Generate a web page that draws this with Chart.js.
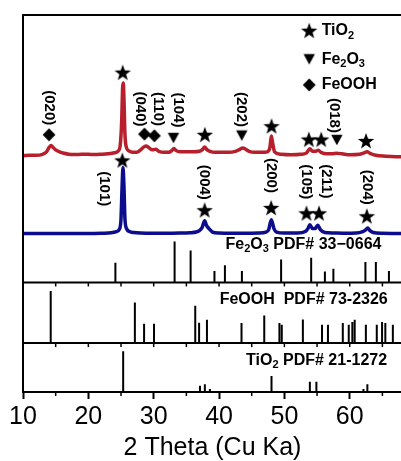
<!DOCTYPE html>
<html>
<head>
<meta charset="utf-8">
<script src="https://cdn.jsdelivr.net/npm/chart.js@4"></script>
<style>
    html, body { margin: 0; padding: 0; background: #fff; overflow: hidden; }
    canvas { display: block; }
</style>
</head>
<body>
<canvas id="xrdChart" width="412" height="461"></canvas>
<script>
// 2 theta ticks
const xTicks = [10, 20, 30, 40, 50, 60];

// measured XRD curves: [2theta, intensity above own baseline]
const redCurve = [
    [10, 0], [11, 0.5], [12, 0.5], [13, 1.5], [13.6, 4], [14.0, 8.5], [14.3, 10.5], [14.6, 8.5],
    [15.0, 6], [15.6, 4], [16.3, 2.5], [17, 1.5], [18, 1.2], [19, 1.5], [20, 1.5], [21, 1.2],
    [22, 1.5], [23, 2], [24, 3], [24.6, 5], [24.9, 12], [25.1, 35], [25.25, 70], [25.35, 74],
    [25.45, 58], [25.6, 22], [25.8, 9], [26.2, 5], [26.8, 3.5], [27.4, 3.5], [28.0, 6], [28.5, 9],
    [28.9, 10], [29.3, 8], [29.8, 6], [30.3, 6.5], [30.8, 4.5], [31.5, 3.5], [32.3, 3.5], [32.8, 5.5],
    [33.1, 7.5], [33.4, 5.5], [34, 4], [35, 4], [36, 4], [37, 4.5], [37.5, 6.5], [37.8, 9],
    [38.1, 6.5], [38.6, 4.5], [39.5, 3.5], [40.5, 3.5], [41.5, 3.5], [42.5, 4.5], [43.2, 6.5], [43.6, 8],
    [44.1, 6.5], [44.6, 4.5], [45.5, 3.5], [46.5, 3.5], [47.4, 4], [47.8, 9], [48.0, 20], [48.2, 13],
    [48.5, 4], [49.5, 1.5], [51, 1], [52.5, 1.5], [53.4, 3], [53.9, 7], [54.3, 4.5], [54.8, 4.5],
    [55.2, 5.5], [55.6, 3.5], [56.5, 2], [57.3, 2], [58.0, 2.5], [58.8, 2], [60, 1], [61.5, 1.5],
    [62.2, 3], [62.65, 4], [63.1, 2.5], [64, 0.5], [65.5, -0.5], [67, -1], [68, -1]
];
const blueCurve = [
    [10, 0], [12, 0], [14, 0], [16, 0], [18, 0], [20, 0], [22, 0.3], [23.5, 0.8],
    [24.3, 2], [24.8, 5], [25.0, 15], [25.15, 45], [25.3, 67], [25.45, 48], [25.6, 15], [25.85, 5],
    [26.3, 2], [27, 1], [28, 0.5], [30, 0.3], [32, 0.3], [34, 0.5], [35.5, 0.8], [36.5, 1.5],
    [37.0, 3], [37.4, 6], [37.8, 13], [38.1, 8], [38.6, 4], [39.0, 1.5], [40, 0.5], [42, 0.3],
    [44, 0.3], [46, 0.5], [47.2, 1.5], [47.6, 4], [48.0, 14], [48.4, 5], [48.8, 1.5], [50, 0.5],
    [52, 0.5], [53.2, 2], [53.6, 5], [53.9, 9], [54.3, 5], [54.7, 5], [55.1, 8.5], [55.5, 4],
    [56.2, 1], [57.5, 0.5], [59, 0.3], [61, 0.5], [62.0, 2], [62.4, 3.5], [62.75, 5.5], [63.1, 3],
    [63.6, 1], [65, 0.3], [68, 0]
];

// reference patterns: [2theta, stick height]
const fe2o3Sticks = [
    [24.14, 20], [33.2, 41.7], [35.65, 32.4], [39.3, 11.7], [40.9, 17.4], [43.5, 11.7], [49.5, 23.4],
    [54.1, 25], [56.2, 11], [57.5, 14], [62.4, 20.7], [64.0, 20.7], [66.0, 11.7]
];
const feoohSticks = [
    [14.24, 53], [27.12, 41.3], [28.53, 19.7], [30.05, 19.7], [36.36, 38], [36.95, 20.7], [38.15, 23.7],
    [43.44, 20.3], [46.92, 28], [49.24, 20.3], [49.6, 18.7], [52.83, 24], [55.76, 18.7], [56.67, 18.7],
    [58.94, 20.3], [59.85, 18.7], [60.4, 21.3], [60.76, 23.7], [62.47, 18.7], [64.14, 18.7], [64.95, 21.3],
    [65.45, 20.3], [66.6, 18.7]
];
const tio2Sticks = [
    [25.33, 41.3], [37.08, 6.3], [37.83, 8], [38.6, 3], [48.03, 16.3], [53.9, 10.3], [54.9, 10.3],
    [62.1, 3], [62.7, 8]
];

// peak markers: [2theta, y]
const redStars = [[25.26, 324.5], [37.83, 261.3], [48.03, 270], [53.74, 256.5], [55.64, 256.5], [62.5, 255]];
const redTriangles = [[33.03, 258], [43.48, 260.5], [58.03, 256]];
const redDiamonds = [[13.98, 261.3], [28.59, 262], [30.11, 260.3]];
const blueStars = [[25.2, 235.3], [37.8, 184.7], [47.98, 187], [53.38, 181.5], [55.3, 181.5], [62.62, 178.5]];

// hkl labels: [text, 2theta, y]
const redLabels = [
    ["(020)", 13.98, 288.8], ["(040)", 27.88, 287.5], ["(110)", 30.61, 287.5],
    ["(104)", 33.79, 286.5], ["(202)", 43.33, 287], ["(018)", 57.65, 281]
];
const blueLabels = [
    ["(101)", 22.42, 206.5], ["(004)", 37.65, 213], ["(200)", 47.95, 220],
    ["(105)", 53.36, 213.5], ["(211)", 56.32, 214], ["(204)", 62.62, 208]
];

// offsets of each trace / panel
const redBase = 240;
const blueBase = 161;
const fe2o3Base = 111.3;
const feoohBase = 49.7;
const tio2Base = 0;

const FONT = "'Liberation Sans', Arial, sans-serif";

function makeMarker(kind) {
    const c = document.createElement("canvas");
    c.width = 18;
    c.height = 18;
    const g = c.getContext("2d");
    g.fillStyle = "#000";
    g.beginPath();
    if (kind === "star") {
        for (let i = 0; i < 10; i++) {
            const r = i % 2 === 0 ? 8.6 : 3.5;
            const a = -Math.PI / 2 + i * Math.PI / 5;
            g.lineTo(9 + r * Math.cos(a), 9.6 + r * Math.sin(a));
        }
    } else if (kind === "tri") {
        g.moveTo(3.3, 3.8);
        g.lineTo(14.7, 3.8);
        g.lineTo(9, 14.2);
    } else {
        g.moveTo(9, 2.6);
        g.lineTo(15.4, 9);
        g.lineTo(9, 15.4);
        g.lineTo(2.6, 9);
    }
    g.closePath();
    g.fill();
    return c;
}
const starImg = makeMarker("star");
const triImg = makeMarker("tri");
const diaImg = makeMarker("dia");

function curveData(points, base) {
    return points.map(function (p) {
        return { x: p[0], y: base + p[1] };
    });
}

function stickData(sticks, base) {
    const out = [];
    sticks.forEach(function (s) {
        out.push({ x: s[0], y: base });
        out.push({ x: s[0], y: base + s[1] });
        out.push({ x: s[0], y: null });
    });
    return out;
}

function lineAcross(base) {
    return [{ x: 10, y: base }, { x: 68, y: base }];
}

function markerData(points) {
    return points.map(function (p) {
        return { x: p[0], y: p[1] };
    });
}

function markerSet(points, img) {
    return {
        data: markerData(points),
        showLine: false,
        pointStyle: img,
        pointRadius: 9,
        clip: false,
    };
}

// draw text with subscript parts: [["Fe"], ["2", true], ...]
function drawRich(ctx, parts, x, y, size) {
    parts.forEach(function (p) {
        const sub = p[1] === true;
        ctx.font = "bold " + (sub ? Math.round(size * 0.68) : size) + "px " + FONT;
        ctx.fillText(p[0], x, sub ? y + size * 0.3 : y);
        x += ctx.measureText(p[0]).width;
    });
}

const overlay = {
    id: "overlay",
    afterDatasetsDraw: function (chart) {
        const ctx = chart.ctx;
        const a = chart.chartArea;
        const x = chart.scales.x;
        const y = chart.scales.y;
        ctx.save();
        ctx.strokeStyle = "#000";
        ctx.lineWidth = 2;
        ctx.beginPath();
        ctx.moveTo(a.left, a.bottom);
        ctx.lineTo(a.left, a.top);
        ctx.lineTo(a.right, a.top);
        ctx.lineTo(a.right, a.bottom);
        ctx.stroke();

        // small ticks every 5 degrees on panel axes
        ctx.lineWidth = 1.5;
        [fe2o3Base, feoohBase, tio2Base].forEach(function (b) {
            const py = y.getPixelForValue(b);
            for (let t = 15; t < 68; t += 5) {
                if (b === tio2Base && t % 10 === 0) continue;
                const px = x.getPixelForValue(t);
                ctx.beginPath();
                ctx.moveTo(px, py);
                ctx.lineTo(px, py + 4);
                ctx.stroke();
            }
        });

        // hkl labels
        ctx.fillStyle = "#000";
        ctx.font = "bold 15px " + FONT;
        ctx.textAlign = "center";
        ctx.textBaseline = "middle";
        redLabels.concat(blueLabels).forEach(function (l) {
            ctx.save();
            ctx.translate(x.getPixelForValue(l[1]), y.getPixelForValue(l[2]));
            ctx.rotate(Math.PI / 2);
            ctx.fillText(l[0], 0, 0);
            ctx.restore();
        });

        // pattern labels
        ctx.textAlign = "left";
        drawRich(ctx, [["Fe"], ["2", true], ["O"], ["3", true], [" PDF# 33\u22120664"]],
            x.getPixelForValue(41.0), y.getPixelForValue(149.7), 16);
        drawRich(ctx, [["FeOOH  PDF# 73-2326"]],
            x.getPixelForValue(40.1), y.getPixelForValue(93.7), 16);
        drawRich(ctx, [["TiO"], ["2", true], [" PDF# 21-1272"]],
            x.getPixelForValue(44.14), y.getPixelForValue(32.3), 16);

        // legend
        const legend = [
            [starImg, [["TiO"], ["2", true]], 367],
            [triImg, [["Fe"], ["2", true], ["O"], ["3", true]], 338],
            [diaImg, [["FeOOH"]], 312]
        ];
        legend.forEach(function (l) {
            const py = y.getPixelForValue(l[2]);
            ctx.drawImage(l[0], x.getPixelForValue(53.8) - 9, py - 9);
            drawRich(ctx, l[1], x.getPixelForValue(55.7), py, 16);
        });
        ctx.restore();
    },
};

const stickStyle = {
    borderColor: "#000",
    borderWidth: 2,
    pointRadius: 0,
    spanGaps: false,
    borderCapStyle: "butt",
};

new Chart(document.getElementById("xrdChart"), {
    type: "line",
    data: {
        datasets: [
            {
                data: curveData(redCurve, redBase),
                borderColor: "#b61f2b",
                borderWidth: 3.5,
                pointRadius: 0,
                cubicInterpolationMode: "monotone",
            },
            {
                data: curveData(blueCurve, blueBase),
                borderColor: "#0c0c8c",
                borderWidth: 3.5,
                pointRadius: 0,
                cubicInterpolationMode: "monotone",
            },
            Object.assign({ data: stickData(fe2o3Sticks, fe2o3Base) }, stickStyle),
            Object.assign({ data: stickData(feoohSticks, feoohBase) }, stickStyle),
            Object.assign({ data: stickData(tio2Sticks, tio2Base) }, stickStyle),
            Object.assign({ data: lineAcross(fe2o3Base) }, stickStyle),
            Object.assign({ data: lineAcross(feoohBase) }, stickStyle),
            markerSet(redStars, starImg),
            markerSet(redTriangles, triImg),
            markerSet(redDiamonds, diaImg),
            markerSet(blueStars, starImg),
        ],
    },
    options: {
        responsive: false,
        animation: false,
        layout: {
            padding: { left: 23, top: 15, right: 6, bottom: 0 },
        },
        plugins: {
            legend: { display: false },
            tooltip: { enabled: false },
        },
        scales: {
            x: {
                type: "linear",
                min: 10,
                max: 68,
                afterBuildTicks: function (scale) {
                    scale.ticks = xTicks.map(function (v) {
                        return { value: v };
                    });
                },
                border: { display: true, width: 2, color: "#000" },
                grid: {
                    drawOnChartArea: false,
                    drawTicks: true,
                    tickLength: 7,
                    tickWidth: 2,
                    tickColor: "#000",
                },
                ticks: {
                    color: "#000",
                    padding: 6,
                    maxRotation: 0,
                    autoSkip: false,
                    font: { family: FONT, size: 25, lineHeight: 1 },
                },
                title: {
                    display: true,
                    text: "2 Theta (Cu Ka)",
                    color: "#000",
                    padding: 0,
                    font: { family: FONT, size: 25, lineHeight: 1 },
                },
            },
            y: {
                display: false,
                min: 0,
                max: 383,
            },
        },
    },
    plugins: [overlay],
});
</script>
</body>
</html>
